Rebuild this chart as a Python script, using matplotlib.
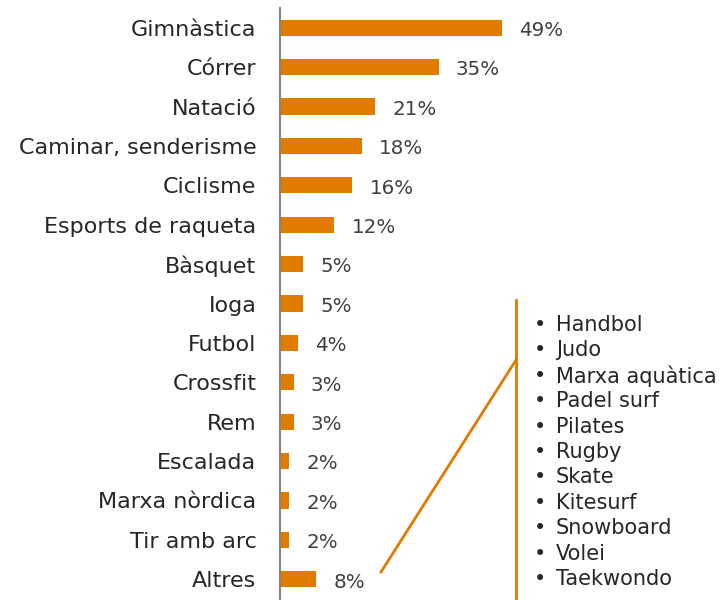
import matplotlib
matplotlib.use("Agg")
import matplotlib.pyplot as plt
from matplotlib.lines import Line2D

# sports and share of people practising them
sports = ["Gimnàstica", "Córrer", "Natació", "Caminar, senderisme", "Ciclisme",
          "Esports de raqueta", "Bàsquet", "Ioga", "Futbol", "Crossfit", "Rem",
          "Escalada", "Marxa nòrdica", "Tir amb arc", "Altres"]
values = [49, 35, 21, 18, 16, 12, 5, 5, 4, 3, 3, 2, 2, 2, 8]
others = ["Handbol", "Judo", "Marxa aquàtica", "Padel surf", "Pilates", "Rugby",
          "Skate", "Kitesurf", "Snowboard", "Volei", "Taekwondo"]

orange = "#E07B00"
W, H = 727, 600

plt.rcParams['font.family'] = ['DejaVu Sans']
fig = plt.figure(figsize=(W / 100, H / 100), dpi=100)
ax = fig.add_axes([280 / W, 1 / H, 447 / W, 591 / H])

ypos = list(range(len(sports)))
ax.barh(ypos, values, height=0.41, color=orange)
ax.set_ylim(len(sports) - 0.5, -0.5)
ax.set_xlim(0, 447 / 4.53)
ax.set_yticks(ypos)
ax.set_yticklabels(sports, fontsize=16, color="#262626")
ax.tick_params(axis="y", length=0, pad=17)
ax.set_xticks([])
for s in ["top", "right", "bottom"]:
    ax.spines[s].set_visible(False)
ax.spines["left"].set_color("#8C8276")
ax.spines["left"].set_linewidth(1.5)

for y, v in zip(ypos, values):
    ax.annotate(f"{v}%", (v, y), xytext=(12.5, -2), textcoords="offset points",
                va="center", ha="left", fontsize=14.3, color="#404040")

# callout for "Altres"
def px(x, y):
    return x / W, 1 - y / H

x0, y0 = px(381, 572)
x1, y1 = px(516, 360)
fig.add_artist(Line2D([x0, x1], [y0, y1], transform=fig.transFigure,
                      color=orange, lw=2))
xa, ya = px(516, 300)
xb, yb = px(516, 600)
fig.add_artist(Line2D([xa, xb], [ya, yb], transform=fig.transFigure,
                      color=orange, lw=2))

for i, name in enumerate(others):
    bx, by = px(534, 325 + i * 25.4)
    fig.text(bx, by, "•", fontsize=15, va="center", ha="left", color="#262626")
    tx, ty = px(556, 325 + i * 25.4)
    fig.text(tx, ty, name, fontsize=15, va="center", ha="left", color="#262626")

fig.savefig("out.png", dpi=100)
